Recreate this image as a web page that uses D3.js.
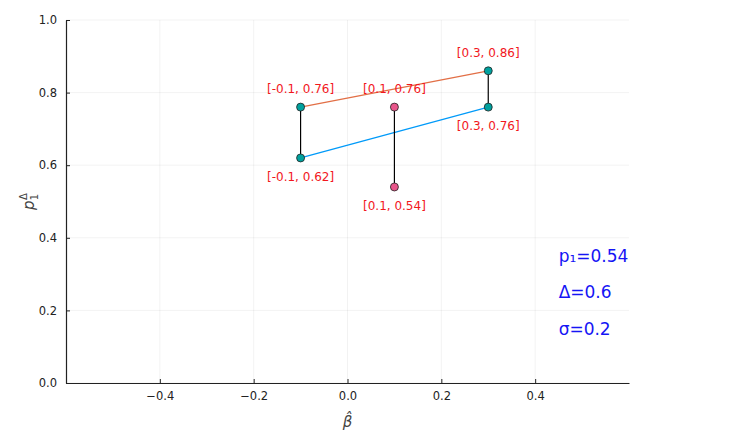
<!DOCTYPE html>
<html>
<head>
<meta charset="utf-8">
<script src="https://cdn.jsdelivr.net/npm/d3@7"></script>
<style>
  body { margin: 0; background: #fff; }
  text { font-family: "DejaVu Sans", sans-serif; }
</style>
</head>
<body>
<div id="chart"></div>
<script>
// data
const xTicks = [-0.4, -0.2, 0.0, 0.2, 0.4];
const yTicks = [0.0, 0.2, 0.4, 0.6, 0.8, 1.0];
const upperLine = [[-0.1, 0.76], [0.3, 0.86]];
const lowerLine = [[-0.1, 0.62], [0.3, 0.76]];
const verticals = [
  [[-0.1, 0.62], [-0.1, 0.76]],
  [[0.1, 0.54], [0.1, 0.76]],
  [[0.3, 0.76], [0.3, 0.86]]
];
const tealPoints = [[-0.1, 0.76], [-0.1, 0.62], [0.3, 0.86], [0.3, 0.76]];
const pinkPoints = [[0.1, 0.76], [0.1, 0.54]];
const pointLabels = [
  {p: [-0.1, 0.76], pos: "above"},
  {p: [-0.1, 0.62], pos: "below"},
  {p: [0.1, 0.76], pos: "above"},
  {p: [0.1, 0.54], pos: "below"},
  {p: [0.3, 0.86], pos: "above"},
  {p: [0.3, 0.76], pos: "below"}
];
const notes = [
  {x: 0.45, y: 0.35, text: "p₁=0.54"},
  {x: 0.45, y: 0.25, text: "Δ=0.6"},
  {x: 0.45, y: 0.15, text: "σ=0.2"}
];

const W = 744, H = 445;
const margin = {top: 20, right: 115, bottom: 62, left: 66};
const width = W - margin.left - margin.right,
      height = H - margin.top - margin.bottom;

const svg = d3.select("#chart")
  .append("svg")
    .attr("width", W)
    .attr("height", H)
  .append("g")
    .attr("transform", `translate(${margin.left},${margin.top})`);

const x = d3.scaleLinear().domain([-0.6, 0.6]).range([0, width]);
const y = d3.scaleLinear().domain([0, 1]).range([height, 0]);

// grid
svg.append("g").selectAll("line")
  .data(xTicks)
  .join("line")
    .attr("x1", d => x(d)).attr("x2", d => x(d))
    .attr("y1", 0).attr("y2", height)
    .attr("stroke", "#000").attr("stroke-opacity", 0.1).attr("stroke-width", 0.5);
svg.append("g").selectAll("line")
  .data(yTicks)
  .join("line")
    .attr("x1", 0).attr("x2", width)
    .attr("y1", d => y(d)).attr("y2", d => y(d))
    .attr("stroke", "#000").attr("stroke-opacity", 0.1).attr("stroke-width", 0.5);

// axes
const fmt = d3.format(".1f");
const xAxis = svg.append("g")
    .attr("transform", `translate(0,${height})`)
    .call(d3.axisBottom(x).tickValues(xTicks).tickSizeInner(-4).tickSizeOuter(0)
      .tickPadding(9).tickFormat(d => fmt(d).replace("-", "\u2212")));
const yAxis = svg.append("g")
    .call(d3.axisLeft(y).tickValues(yTicks).tickSizeInner(-4).tickSizeOuter(0)
      .tickPadding(9).tickFormat(fmt));
[xAxis, yAxis].forEach(a => {
  a.select(".domain").attr("stroke", "#222").attr("stroke-width", 1.2);
  a.selectAll(".tick line").attr("stroke", "#222");
  a.selectAll(".tick text").attr("font-size", 11.5).attr("fill", "#222")
    .attr("font-family", "DejaVu Sans, sans-serif");
});

// axis labels
svg.append("text")
    .attr("x", x(0)).attr("y", height + 44)
    .attr("text-anchor", "middle")
    .attr("font-family", "DejaVu Serif, serif").attr("font-style", "italic")
    .attr("font-size", 15).attr("fill", "#444")
    .text("β̂");
const yl = svg.append("text")
    .attr("transform", `translate(-32,${y(0.5)}) rotate(-90)`)
    .attr("text-anchor", "middle")
    .attr("font-family", "DejaVu Serif, serif").attr("font-style", "italic")
    .attr("font-size", 15).attr("fill", "#444");
yl.append("tspan").text("p");
yl.append("tspan").attr("font-size", 10).attr("dy", 4).attr("font-style", "normal").text("1");
yl.append("tspan").attr("font-size", 10).attr("dx", -6).attr("dy", -11).attr("font-style", "normal").text("Δ");

const line = d3.line().x(d => x(d[0])).y(d => y(d[1]));

svg.append("path").datum(upperLine)
    .attr("d", line).attr("fill", "none").attr("stroke", "#e26f46").attr("stroke-width", 1.2);
svg.append("path").datum(lowerLine)
    .attr("d", line).attr("fill", "none").attr("stroke", "#009af9").attr("stroke-width", 1.2);
svg.append("g").selectAll("path")
  .data(verticals)
  .join("path")
    .attr("d", line).attr("fill", "none").attr("stroke", "#000").attr("stroke-width", 1.2);

// markers
svg.append("g").selectAll("circle")
  .data(tealPoints)
  .join("circle")
    .attr("cx", d => x(d[0])).attr("cy", d => y(d[1])).attr("r", 4)
    .attr("fill", "#00a19e").attr("stroke", "#222").attr("stroke-width", 0.8);
svg.append("g").selectAll("circle")
  .data(pinkPoints)
  .join("circle")
    .attr("cx", d => x(d[0])).attr("cy", d => y(d[1])).attr("r", 4)
    .attr("fill", "#e8558a").attr("stroke", "#222").attr("stroke-width", 0.8);

// point labels
svg.append("g").selectAll("text")
  .data(pointLabels)
  .join("text")
    .attr("x", d => x(d.p[0]))
    .attr("y", d => y(d.p[1]) + (d.pos === "above" ? -14 : 23))
    .attr("text-anchor", "middle")
    .attr("font-size", 12).attr("fill", "#f2171d")
    .text(d => `[${d.p[0]}, ${d.p[1]}]`);

// notes
svg.append("g").selectAll("text")
  .data(notes)
  .join("text")
    .attr("x", d => x(d.x)).attr("y", d => y(d.y))
    .attr("dy", "0.35em")
    .attr("font-size", 17).attr("fill", "#1515f5")
    .text(d => d.text);
</script>
</body>
</html>
